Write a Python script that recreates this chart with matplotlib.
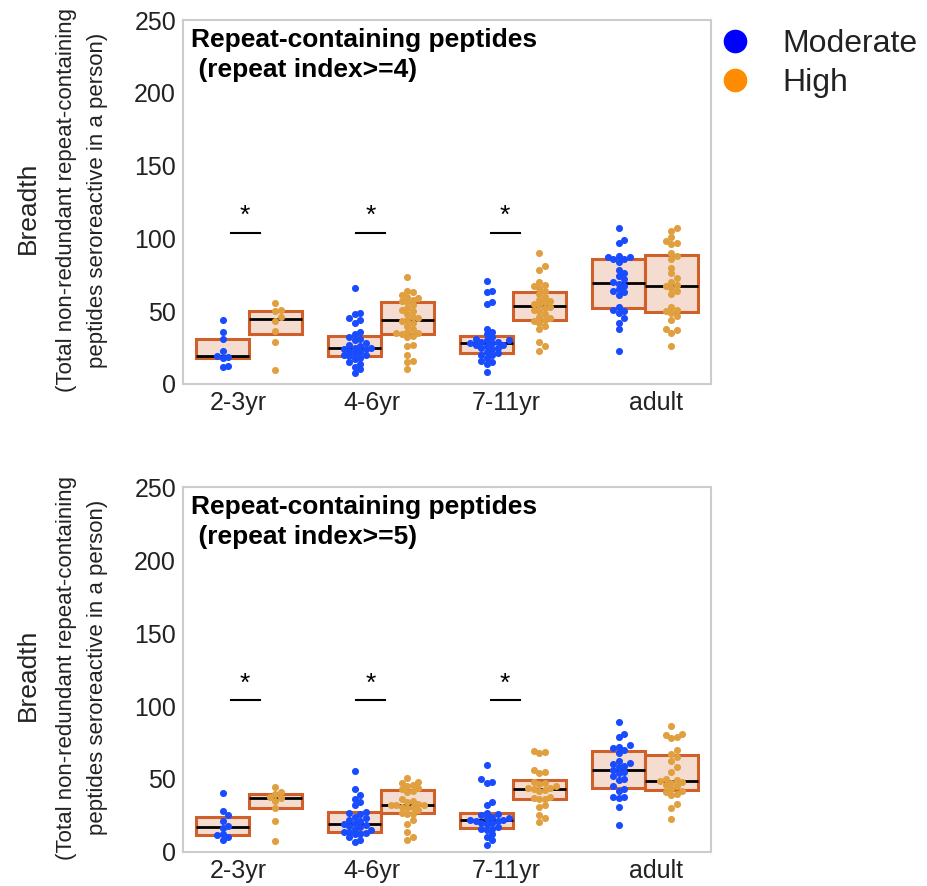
import numpy as np
import matplotlib
matplotlib.use("Agg")
import matplotlib.pyplot as plt
from matplotlib.lines import Line2D

# categories and groups
ages = ["2-3yr", "4-6yr", "7-11yr", "adult"]
levels = ["Moderate", "High"]
titles = ["Repeat-containing peptides\n (repeat index>=4)",
          "Repeat-containing peptides\n (repeat index>=5)"]

# breadth values, repeat index >= 4
ri4_moderate = [
    [44, 35.5, 31, 23, 19, 18.5, 18, 12.5, 11.5],
    [66, 49, 48, 45, 44, 42, 36, 34, 32, 31, 30, 28, 27, 26, 25, 25, 24, 24,
     23, 22, 21, 20, 20, 19, 18, 17, 15, 14, 12, 10, 7.5],
    [71, 64, 63, 56, 55, 38, 36, 34, 32, 31, 30, 30, 29, 29, 28, 28, 27, 27,
     26, 25, 25, 24, 22, 21, 20, 20, 18, 16, 15, 14, 8.5],
    [107, 99, 97, 88, 87, 87, 86, 86, 84, 78, 76, 74, 72, 70, 69, 67, 65, 64,
     63, 61, 53, 51, 50, 49, 45, 42, 38, 23],
]
ri4_high = [
    [55.5, 51, 50, 46, 43, 36.5, 28.5, 9.5],
    [73.5, 64, 63, 61, 60, 59, 58, 57, 56, 54, 52, 51, 50, 48, 46, 45, 44, 43,
     42, 40, 38, 36, 35, 35, 34, 33, 32, 27, 26, 20, 16, 15, 10.5],
    [90, 81, 78, 70, 68, 67, 66, 64, 62, 60, 58, 57, 56, 55, 54, 53, 52, 51,
     50, 48, 46, 45, 44, 43, 42, 40, 38, 29, 26, 23],
    [107, 105, 101, 98, 97, 96, 90, 88, 86, 80, 76, 73, 70, 68, 67, 66, 64, 62,
     53, 51, 50, 49, 47, 44, 38, 37, 35, 26],
]

# breadth values, repeat index >= 5
ri5_moderate = [
    [40.5, 28, 25, 21.5, 18, 16.5, 12.5, 11.5, 10, 8.5],
    [55.5, 43, 39, 36, 34, 32, 27.5, 27, 26, 24, 23, 22, 21, 20, 19, 18.5, 18,
     17, 16, 15, 14, 13.5, 13, 12.5, 12, 10, 8, 6.5],
    [59.5, 50, 48, 47, 34.5, 32, 27, 26, 25, 24, 23, 23, 22, 22, 21, 21, 20,
     20, 19, 17, 16, 15.5, 15, 12, 10, 8, 5],
    [89, 81, 79, 73, 72, 71, 70, 68, 62, 61, 60, 59, 58, 56, 55, 54, 52, 50,
     49, 45, 43, 42, 38, 37.5, 37, 31, 18.5],
]
ri5_high = [
    [44.5, 41, 40, 38, 37, 35, 30, 21.5, 7.5],
    [50.5, 48, 47, 46, 45, 44, 43, 42, 41, 36, 35, 34, 33, 32.5, 32, 32, 31,
     31, 30, 29, 26.5, 26, 26, 22, 19.5, 14, 10, 8],
    [69, 68.5, 68, 56, 55, 54, 47, 46.5, 48, 45, 44, 43.5, 43, 42.5, 42, 38,
     37, 36.5, 36, 32, 31, 25, 23, 20.5],
    [86, 81, 80, 79, 78, 70, 67, 65, 62, 58, 55, 50, 49, 48.5, 48, 47, 46, 45,
     43, 42, 41, 40, 39, 33, 30, 22.5],
]

# significance marks: age groups with a star, bar centre offset, bar height
sig_groups = [0, 1, 2]
sig_offsets = [-0.03, -0.08, -0.06]
sig_level = 104

# tick labels sit slightly off the group centres in the original
tick_offsets = [-0.083, -0.068, -0.053, 0.083]

point_colors = ["#1a4cff", "#e0a040"]
legend_colors = ["#0000ff", "#ff8c00"]
box_face = "#f5dcd0"
box_edge = "#d0602a"

plt.rcParams["font.family"] = ["Liberation Sans", "DejaVu Sans"]

fig = plt.figure(figsize=(9.27, 8.86), dpi=100)
ax_top = fig.add_axes([0.1974, 0.5666, 0.5696, 0.4108])
ax_bot = fig.add_axes([0.1974, 0.0384, 0.5696, 0.4119])


def swarm_offsets(values, px_per_unit, gap=5.5):
    """Simple beeswarm: horizontal pixel offsets so points don't pile up."""
    order = np.argsort(values)
    placed = []
    offsets = np.zeros(len(values))
    for idx in order:
        y = values[idx] * px_per_unit
        k = 0
        while True:
            cand = 0 if k == 0 else ((k + 1) // 2) * gap * (1 if k % 2 else -1)
            if all((cand - px) ** 2 + (y - py) ** 2 >= gap ** 2 for px, py in placed):
                break
            k += 1
        placed.append((cand, y))
        offsets[idx] = cand
    return offsets


panels = [(ax_top, ri4_moderate, ri4_high, titles[0]),
          (ax_bot, ri5_moderate, ri5_high, titles[1])]

for ax, moderate, high, title in panels:
    ax.set_xlim(-0.5, 3.5)
    ax.set_ylim(0, 250)
    bb = ax.get_position()
    ax_w_px = bb.width * 927
    ax_h_px = bb.height * 886
    x_per_px = 4.0 / ax_w_px
    px_per_unit = ax_h_px / 250.0

    for j, series in enumerate([moderate, high]):
        pos = np.arange(len(ages)) + (j - 0.5) * 0.4
        # boxes (IQR + median, no whiskers)
        ax.boxplot(series, positions=pos, widths=0.4, whis=0,
                   showcaps=False, showfliers=False, patch_artist=True,
                   boxprops=dict(facecolor=box_face, edgecolor=box_edge, linewidth=2.2),
                   medianprops=dict(color="black", linewidth=2),
                   whiskerprops=dict(linewidth=0), zorder=1)
        for p, vals in zip(pos, series):
            vals = np.asarray(vals, dtype=float)
            dx = swarm_offsets(vals, px_per_unit) * x_per_px
            ax.scatter(p + dx, vals, s=26, color=point_colors[j],
                       linewidths=0, zorder=3)

    for g, off in zip(sig_groups, sig_offsets):
        ax.plot([g + off - 0.11, g + off + 0.11], [sig_level, sig_level],
                color="black", lw=1.5)
        ax.text(g + off, sig_level + 3, "*", ha="center", va="bottom",
                fontsize=19)

    ax.text(0.016, 0.978, title, transform=ax.transAxes, ha="left", va="top",
            fontsize=19, fontweight="bold", linespacing=1.3)

    ax.set_yticks([0, 50, 100, 150, 200, 250])
    ax.set_xticks(np.arange(len(ages)) + np.array(tick_offsets))
    ax.set_xticklabels(ages)
    ax.tick_params(axis="both", length=0, labelsize=18, pad=5,
                   labelcolor="#222222")
    for s in ax.spines.values():
        s.set_color("#cccccc")
        s.set_linewidth(1.5)

    # y labels
    yc = (bb.y0 + bb.y1) / 2
    fig.text(28 / 927, yc - 0.006, "Breadth", rotation=90, ha="center",
             va="center", fontsize=19, color="#222222")
    fig.text(82 / 927, yc + 0.002,
             "(Total non-redundant repeat-containing\npeptides seroreactive in a person)",
             rotation=90, ha="center", va="center", fontsize=16,
             linespacing=1.6, color="#222222")

handles = [Line2D([], [], marker="o", linestyle="", markersize=16,
                  color=c) for c in legend_colors]
fig.legend(handles, levels, loc="upper left", bbox_to_anchor=(0.727, 1.0),
           frameon=False, fontsize=23, handlelength=2, handletextpad=0.5,
           labelspacing=0.3, labelcolor="#222222")

fig.savefig("out.png", dpi=100)
